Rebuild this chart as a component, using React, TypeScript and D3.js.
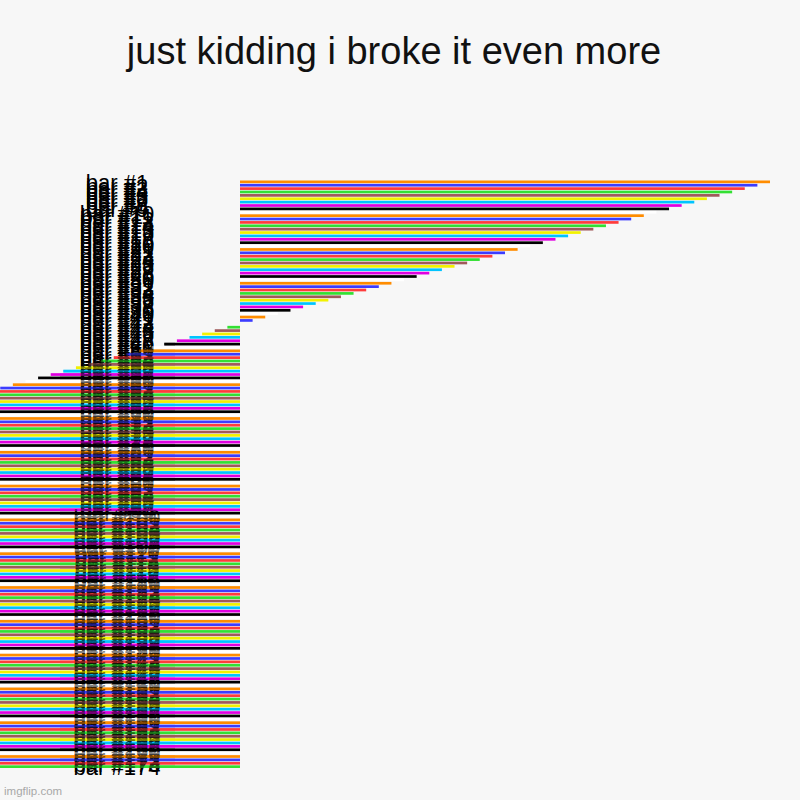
import React, { useEffect, useRef } from 'react';
import * as d3 from 'd3';

const TITLE = 'just kidding i broke it even more';

const LABELS = [
    'bar #1', 'bar #2', 'bar #3', 'bar #4', 'bar #5', 'bar #6', 'bar #7', 'bar #8', 'bar #9', 'bar #10',
    'bar #11', 'bar #12', 'bar #13', 'bar #14', 'bar #15', 'bar #16', 'bar #17', 'bar #18', 'bar #19', 'bar #20',
    'bar #21', 'bar #22', 'bar #23', 'bar #24', 'bar #25', 'bar #26', 'bar #27', 'bar #28', 'bar #29', 'bar #30',
    'bar #31', 'bar #32', 'bar #33', 'bar #34', 'bar #35', 'bar #36', 'bar #37', 'bar #38', 'bar #39', 'bar #40',
    'bar #41', 'bar #42', 'bar #43', 'bar #44', 'bar #45', 'bar #46', 'bar #47', 'bar #48', 'bar #49', 'bar #50',
    'bar #51', 'bar #52', 'bar #53', 'bar #54', 'bar #55', 'bar #56', 'bar #57', 'bar #58', 'bar #59', 'bar #60',
    'bar #61', 'bar #62', 'bar #63', 'bar #64', 'bar #65', 'bar #66', 'bar #67', 'bar #68', 'bar #69', 'bar #70',
    'bar #71', 'bar #72', 'bar #73', 'bar #74', 'bar #75', 'bar #76', 'bar #77', 'bar #78', 'bar #79', 'bar #80',
    'bar #81', 'bar #82', 'bar #83', 'bar #84', 'bar #85', 'bar #86', 'bar #87', 'bar #88', 'bar #89', 'bar #90',
    'bar #91', 'bar #92', 'bar #93', 'bar #94', 'bar #95', 'bar #96', 'bar #97', 'bar #98', 'bar #99', 'bar #100',
    'bar #101', 'bar #102', 'bar #103', 'bar #104', 'bar #105', 'bar #106', 'bar #107', 'bar #108', 'bar #109', 'bar #110',
    'bar #111', 'bar #112', 'bar #113', 'bar #114', 'bar #115', 'bar #116', 'bar #117', 'bar #118', 'bar #119', 'bar #120',
    'bar #121', 'bar #122', 'bar #123', 'bar #124', 'bar #125', 'bar #126', 'bar #127', 'bar #128', 'bar #129', 'bar #130',
    'bar #131', 'bar #132', 'bar #133', 'bar #134', 'bar #135', 'bar #136', 'bar #137', 'bar #138', 'bar #139', 'bar #140',
    'bar #141', 'bar #142', 'bar #143', 'bar #144', 'bar #145', 'bar #146', 'bar #147', 'bar #148', 'bar #149', 'bar #150',
    'bar #151', 'bar #152', 'bar #153', 'bar #154', 'bar #155', 'bar #156', 'bar #157', 'bar #158', 'bar #159', 'bar #160',
    'bar #161', 'bar #162', 'bar #163', 'bar #164', 'bar #165', 'bar #166', 'bar #167', 'bar #168', 'bar #169', 'bar #170',
    'bar #171', 'bar #172', 'bar #173', 'bar #174',
];

// one step per bar, crossing zero at bar #43
const VALUES = [
    42, 41, 40, 39, 38, 37, 36, 35, 34, 33,
    32, 31, 30, 29, 28, 27, 26, 25, 24, 23,
    22, 21, 20, 19, 18, 17, 16, 15, 14, 13,
    12, 11, 10, 9, 8, 7, 6, 5, 4, 3,
    2, 1, 0, -1, -2, -3, -4, -5, -6, -7,
    -8, -9, -10, -11, -12, -13, -14, -15, -16, -17,
    -18, -19, -20, -21, -22, -23, -24, -25, -26, -27,
    -28, -29, -30, -31, -32, -33, -34, -35, -36, -37,
    -38, -39, -40, -41, -42, -43, -44, -45, -46, -47,
    -48, -49, -50, -51, -52, -53, -54, -55, -56, -57,
    -58, -59, -60, -61, -62, -63, -64, -65, -66, -67,
    -68, -69, -70, -71, -72, -73, -74, -75, -76, -77,
    -78, -79, -80, -81, -82, -83, -84, -85, -86, -87,
    -88, -89, -90, -91, -92, -93, -94, -95, -96, -97,
    -98, -99, -100, -101, -102, -103, -104, -105, -106, -107,
    -108, -109, -110, -111, -112, -113, -114, -115, -116, -117,
    -118, -119, -120, -121, -122, -123, -124, -125, -126, -127,
    -128, -129, -130, -131,
];

const PALETTE = [
    '#ff8c00', '#3c3cff', '#ff3c3c', '#33e033', '#a05a5a',
    '#f2f200', '#00c4ff', '#e000e0', '#000000', '#ffffff',
];

export default function App() {
    const svgRef = useRef<SVGSVGElement>(null);

    useEffect(() => {
        if (!svgRef.current) return;

        const width = 800;
        const height = 800;
        const font = 'Arial, "Liberation Sans", sans-serif';
        const labelX = 117;

        const svg = d3.select(svgRef.current);
        svg.selectAll('*').remove();
        svg.attr('viewBox', `0 0 ${width} ${height}`);

        svg.append('rect')
            .attr('width', width)
            .attr('height', height)
            .attr('fill', '#f7f7f7');

        svg.append('text')
            .attr('x', 394)
            .attr('y', 64)
            .attr('text-anchor', 'middle')
            .style('font-family', font)
            .style('font-size', '38px')
            .attr('fill', '#111')
            .text(TITLE);

        // x axis only spans the positive side; negatives run off the left
        const x = d3.scaleLinear().domain([0, d3.max(VALUES)!]).range([240, 770]);
        const y = d3.scaleBand<string>()
            .domain(LABELS)
            .range([180.5, 768])
            .paddingInner(0.2);

        const drawBars = (g: d3.Selection<SVGGElement, unknown, null, undefined>) => {
            g.selectAll('rect')
                .data(VALUES)
                .join('rect')
                .attr('x', d => Math.min(x(0), x(d)))
                .attr('y', (d, i) => y(LABELS[i])!)
                .attr('width', d => Math.abs(x(d) - x(0)))
                .attr('height', y.bandwidth())
                .attr('fill', (d, i) => PALETTE[i % PALETTE.length]);
        };

        drawBars(svg.append('g').attr('class', 'bars'));

        const labels = svg.append('g').attr('class', 'labels');
        labels.selectAll('text')
            .data(LABELS)
            .join('text')
            .attr('x', labelX)
            .attr('y', d => y(d)! + y.bandwidth() / 2)
            .attr('dy', '0.38em')
            .attr('text-anchor', 'middle')
            .style('font-family', font)
            .style('font-size', '22px')
            .attr('fill', '#000')
            .text(d => d);

        // the bars bleed over the tick labels in the original, so tint them
        svg.append('clipPath')
            .attr('id', 'label-col')
            .append('rect')
            .attr('x', 60)
            .attr('y', 0)
            .attr('width', 115)
            .attr('height', height);

        drawBars(svg.append('g')
            .attr('clip-path', 'url(#label-col)')
            .attr('opacity', 0.5));

        svg.append('text')
            .attr('x', 4)
            .attr('y', 795)
            .style('font-family', font)
            .style('font-size', '11.5px')
            .attr('fill', '#a8a8a8')
            .text('imgflip.com');
    }, []);

    return (
        <div style={{ position: 'absolute', left: 0, top: 0, width: 800, height: 800 }}>
            <svg ref={svgRef} width={800} height={800} style={{ display: 'block' }} />
        </div>
    );
}
